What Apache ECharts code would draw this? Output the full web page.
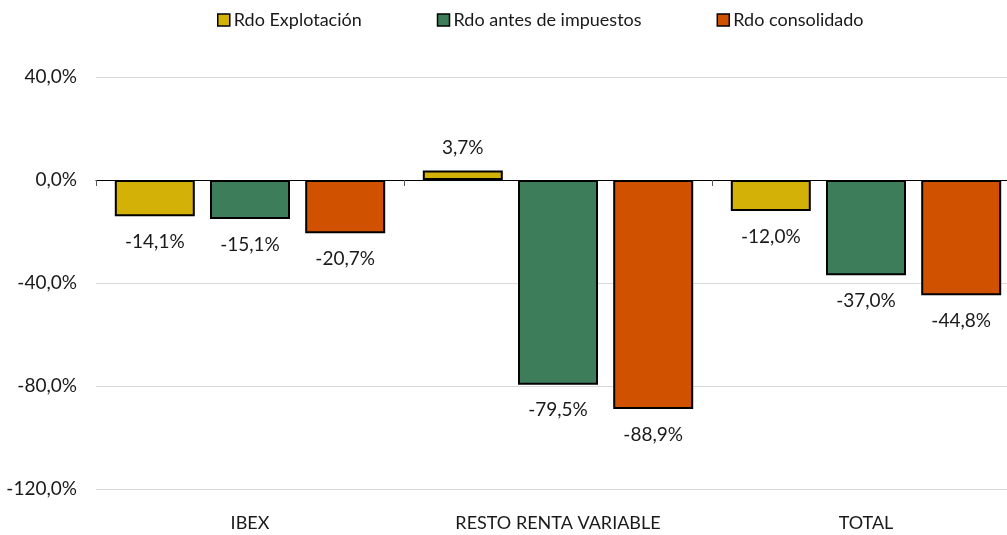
<!DOCTYPE html>
<html>
<head>
<meta charset="utf-8">
<script src="https://cdn.jsdelivr.net/npm/echarts@6/dist/echarts.min.js"></script>
<style>
  html, body { margin: 0; padding: 0; background: #fff; }
  #chart { width: 1007px; height: 535px; }
</style>
</head>
<body>
<div id="chart"></div>
<script>
const categories = ['IBEX', 'RESTO RENTA VARIABLE', 'TOTAL']
const explotacion = [-14.1, 3.7, -12.0]
const antesImpuestos = [-15.1, -79.5, -37.0]
const consolidado = [-20.7, -88.9, -44.8]
const seriesNames = ['Rdo Explotación', 'Rdo antes de impuestos', 'Rdo consolidado']
const seriesColors = ['#D4B106', '#3D7D5A', '#D05200']

const font = 'Lato, "Open Sans", sans-serif'
const fmt = v => v.toFixed(1).replace('.', ',') + '%'

function makeSeries(name, data, color) {
  return {
    name: name,
    type: 'bar',
    data: data.map(v => ({
      value: v,
      label: { position: v >= 0 ? 'top' : 'bottom', distance: v >= 0 ? 13 : 16 }
    })),
    barWidth: 80,
    barGap: '19%',
    itemStyle: { color: color, borderColor: '#000', borderWidth: 2 },
    label: {
      show: true,
      color: '#1a1a1a',
      fontFamily: font,
      fontSize: 19,
      formatter: p => fmt(p.value)
    }
  }
}

const myChart = echarts.init(document.getElementById('chart'))
const option = {
  animation: false,
  legend: {
    data: seriesNames,
    top: 6,
    left: 212,
    itemWidth: 12,
    itemHeight: 12,
    itemGap: 75,
    icon: 'rect',
    textStyle: { fontFamily: font, fontSize: 18, color: '#1a1a1a', padding: [0, 0, 0, -1] },
    itemStyle: { borderColor: '#000', borderWidth: 1.5 }
  },
  grid: { left: 96, width: 924, top: 77, bottom: 46, outerBoundsMode: 'none', containLabel: false },
  xAxis: [
    {
      type: 'category',
      data: categories,
      axisLine: { onZero: true, lineStyle: { color: '#000', width: 1 } },
      axisTick: { show: true, length: 6, inside: false, lineStyle: { color: '#595959' } },
      axisLabel: { show: false },
      splitLine: { show: false }
    },
    {
      type: 'category',
      data: categories,
      position: 'bottom',
      axisLine: { show: false, onZero: false },
      axisTick: { show: false },
      axisLabel: { margin: 25, fontFamily: font, fontSize: 18, color: '#1a1a1a' }
    }
  ],
  yAxis: {
    type: 'value',
    min: -120,
    max: 40,
    interval: 40,
    axisLine: { show: false },
    axisTick: { show: false },
    axisLabel: { margin: 19, fontFamily: font, fontSize: 19, color: '#1a1a1a', formatter: v => fmt(v) },
    splitLine: { lineStyle: { color: '#d9d9d9', width: 1 } }
  },
  series: [
    makeSeries(seriesNames[0], explotacion, seriesColors[0]),
    makeSeries(seriesNames[1], antesImpuestos, seriesColors[1]),
    makeSeries(seriesNames[2], consolidado, seriesColors[2])
  ]
}
myChart.setOption(option)
</script>
</body>
</html>
